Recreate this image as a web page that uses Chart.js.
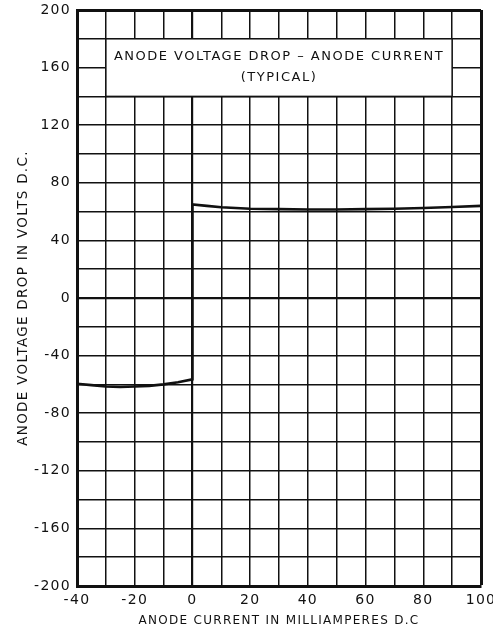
<!DOCTYPE html>
<html>
<head>
<meta charset="utf-8">
<script src="https://cdn.jsdelivr.net/npm/chart.js@4/dist/chart.umd.min.js"></script>
<style>
  html, body { margin: 0; padding: 0; background: #fff; }
  canvas { display: block; }
</style>
</head>
<body>
<canvas id="chart" width="493" height="636"></canvas>
<script>
// anode current (mA) vs anode voltage drop (V)
const currentMA = [-40, -35, -30, -25, -20, -15, -10, -5, 0, 0, 5, 10, 20, 30, 40, 50, 60, 70, 80, 90, 100];
const voltageV  = [-59.5, -60.5, -61.5, -61.8, -61.5, -61, -60, -58.5, -56.5, 65, 64, 63, 62, 61.7, 61.5, 61.5, 61.7, 62, 62.5, 63.2, 64];

const xRange = [-40, 100];
const yRange = [-200, 200];
const xLabelEvery = 20;
const yLabelEvery = 40;

const titleLines = ['ANODE VOLTAGE DROP \u2013 ANODE CURRENT', '(TYPICAL)'];
const xTitle = 'ANODE CURRENT IN MILLIAMPERES D.C';
const yTitle = 'ANODE VOLTAGE DROP IN VOLTS D.C.';

// white caption box sitting on the grid, in data units
const boxX = [-30, 90];
const boxY = [140, 180];

const INK = '#111';
const FONT = 'DejaVu Sans';

function lineWidthFor(value, lo, hi) {
  if (value === hi) return 3;
  if (value === 0) return 2.2;
  return 1.5;
}

// lettering on the original is spaced out; keep that for every label
const spacing = {
  id: 'spacing',
  beforeDraw(chart) { chart.ctx.letterSpacing = '1.3px'; }
};

const captionBox = {
  id: 'captionBox',
  afterDraw(chart) {
    const { ctx, scales: { x, y } } = chart;
    const l = x.getPixelForValue(boxX[0]), r = x.getPixelForValue(boxX[1]);
    const t = y.getPixelForValue(boxY[1]), b = y.getPixelForValue(boxY[0]);
    ctx.save();
    ctx.fillStyle = '#fff';
    ctx.fillRect(l, t, r - l, b - t);
    ctx.strokeStyle = INK;
    ctx.lineWidth = 1.5;
    ctx.strokeRect(l, t, r - l, b - t);
    ctx.fillStyle = INK;
    ctx.textAlign = 'center';
    ctx.textBaseline = 'middle';
    ctx.letterSpacing = '1.5px';
    ctx.font = '13px "' + FONT + '"';
    const cx = (l + r) / 2;
    ctx.fillText(titleLines[0], cx, t + 18);
    ctx.fillText(titleLines[1], cx, t + 39);
    ctx.restore();
  }
};

new Chart(document.getElementById('chart'), {
  type: 'line',
  data: {
    datasets: [{
      data: currentMA.map((c, i) => ({ x: c, y: voltageV[i] })),
      borderColor: INK,
      borderWidth: 2.6,
      pointRadius: 0,
      tension: 0,
      fill: false
    }]
  },
  options: {
    responsive: false,
    animation: false,
    layout: { padding: { top: 10, right: 12, bottom: 0, left: 0 } },
    plugins: { legend: { display: false }, tooltip: { enabled: false } },
    scales: {
      x: {
        type: 'linear',
        min: xRange[0],
        max: xRange[1],
        afterFit: s => { s.height = 50; s.paddingLeft = 0; s.paddingRight = 0; },
        ticks: {
          stepSize: 10,
          color: INK,
          padding: 6,
          maxRotation: 0,
          autoSkip: false,
          font: { family: FONT, size: 14 },
          callback: v => (v % xLabelEvery === 0 ? String(v) : '')
        },
        grid: {
          drawTicks: false,
          color: INK,
          lineWidth: c => lineWidthFor(c.tick.value, xRange[0], xRange[1])
        },
        border: { display: true, color: INK, width: 3 },
        title: {
          display: true,
          text: xTitle,
          color: INK,
          font: { family: FONT, size: 12 },
          padding: { top: 0, bottom: 8 }
        }
      },
      y: {
        min: yRange[0],
        max: yRange[1],
        afterFit: s => { s.width = 77; s.paddingTop = 0; s.paddingBottom = 0; },
        ticks: {
          stepSize: 20,
          color: INK,
          padding: 6,
          autoSkip: false,
          font: { family: FONT, size: 14 },
          callback: v => (v % yLabelEvery === 0 ? String(v) : '')
        },
        grid: {
          drawTicks: false,
          color: INK,
          lineWidth: c => lineWidthFor(c.tick.value, yRange[0], yRange[1])
        },
        border: { display: true, color: INK, width: 3 },
        title: {
          display: true,
          text: yTitle,
          color: INK,
          font: { family: FONT, size: 13.5 },
          padding: { top: 15, bottom: 0 }
        }
      }
    }
  },
  plugins: [spacing, captionBox]
});
</script>
</body>
</html>
